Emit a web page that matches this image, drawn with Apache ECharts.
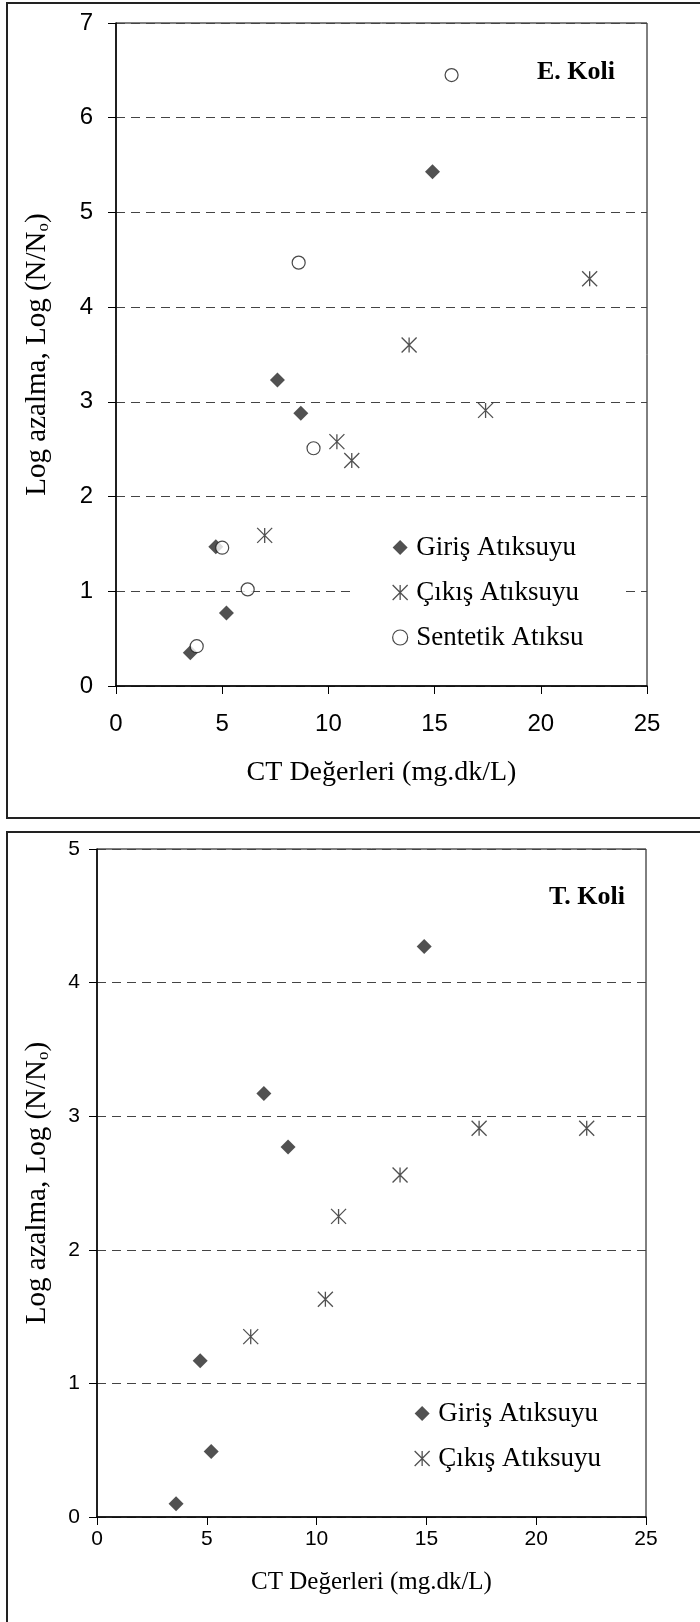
<!DOCTYPE html>
<html>
<head>
<meta charset="utf-8">
<script src="https://cdn.jsdelivr.net/npm/echarts@6/dist/echarts.min.js"></script>
<style>
  html, body { margin: 0; padding: 0; background: #fff; }
  #chart { width: 700px; height: 1622px; }
</style>
</head>
<body>
<div id="chart"></div>
<script>
// E. Koli — CT (mg.dk/L) vs log reduction
const eGirisCT      = [3.5, 4.7, 5.2, 7.6, 8.7, 14.9];
const eGirisLog     = [0.35, 1.47, 0.77, 3.23, 2.88, 5.43];
const eCikisCT      = [7.0, 10.4, 11.1, 13.8, 17.4, 22.3];
const eCikisLog     = [1.59, 2.58, 2.38, 3.60, 2.91, 4.30];
const eSentetikCT   = [3.8, 5.0, 6.2, 8.6, 9.3, 15.8];
const eSentetikLog  = [0.42, 1.46, 1.02, 4.47, 2.51, 6.45];

// T. Koli — CT (mg.dk/L) vs log reduction
const tGirisCT      = [3.6, 4.7, 5.2, 7.6, 8.7, 14.9];
const tGirisLog     = [0.10, 1.17, 0.49, 3.17, 2.77, 4.27];
const tCikisCT      = [7.0, 10.4, 11.0, 13.8, 17.4, 22.3];
const tCikisLog     = [1.35, 1.63, 2.25, 2.56, 2.91, 2.91];

const seriesNames = ['Giriş Atıksuyu', 'Çıkış Atıksuyu', 'Sentetik Atıksu'];
const panelTitles = ['E. Koli', 'T. Koli'];
const xAxisTitle = 'CT Değerleri (mg.dk/L)';
const yAxisTitle = 'Log azalma, Log (N/N{s|o})';

const pairs = (xs, ys) => xs.map((x, i) => [x, ys[i]]);

const serif = 'Liberation Serif, Times New Roman, serif';
const sans = 'Liberation Sans, Arial, sans-serif';
const ink = '#262626';

const diamondPath = 'path://M5,0L10,5L5,10L0,5Z';
const starPath = 'path://M0,0L10,10M10,0L0,10M5,0L5,10';

const styles = {
  giris:    { symbol: diamondPath, symbolSize: 15, itemStyle: { color: ink } },
  cikis:    { symbol: starPath, symbolSize: 15, itemStyle: { color: ink, borderColor: ink, borderWidth: 1.3 } },
  sentetik: { symbol: 'circle', symbolSize: 13, itemStyle: { color: '#fff', borderColor: '#1a1a1a', borderWidth: 1.2 } }
};

function scatter(name, idx, data, st) {
  return Object.assign({
    type: 'scatter', name: name, xAxisIndex: idx, yAxisIndex: idx, data: data,
    symbolKeepAspect: true, emphasis: { disabled: true }
  }, st);
}

function xAxisFor(idx, labelSize, margin, nameSize, nameGap) {
  return {
    gridIndex: idx, type: 'value', min: 0, max: 25, interval: 5,
    axisLine: { show: true, onZero: false, lineStyle: { color: '#000', width: 1.5 } },
    axisTick: { show: true, inside: false, length: 8, lineStyle: { color: '#000' } },
    axisLabel: { margin: margin, color: '#000', fontFamily: sans, fontSize: labelSize },
    splitLine: { show: false },
    name: xAxisTitle, nameLocation: 'middle', nameGap: nameGap, nameMoveOverlap: false,
    nameTextStyle: { color: '#000', fontFamily: serif, fontSize: nameSize }
  };
}

function yAxisFor(idx, max, labelSize, margin, nameGap) {
  return {
    gridIndex: idx, type: 'value', min: 0, max: max, interval: 1,
    axisLine: { show: true, onZero: false, lineStyle: { color: '#000', width: 1.5 } },
    axisTick: { show: true, inside: false, length: 8, lineStyle: { color: '#000' } },
    axisLabel: { margin: margin, color: '#000', fontFamily: sans, fontSize: labelSize },
    splitLine: { show: true, lineStyle: { type: [9, 6], color: '#444', width: 1 } },
    name: yAxisTitle, nameLocation: 'middle', nameGap: nameGap, nameMoveOverlap: false,
    nameTextStyle: {
      color: '#000', fontFamily: serif, fontSize: 29,
      rich: { s: { fontFamily: serif, fontSize: 17, verticalAlign: 'bottom', color: '#000' } }
    }
  };
}

function legendItems(names) {
  const map = {
    'Giriş Atıksuyu':  { icon: diamondPath, itemStyle: { color: ink, borderWidth: 0 } },
    'Çıkış Atıksuyu':  { icon: starPath, itemStyle: { color: ink, borderColor: ink, borderWidth: 1.3 } },
    'Sentetik Atıksu': { icon: 'circle', itemStyle: { color: '#fff', borderColor: '#1a1a1a', borderWidth: 1.2 } }
  };
  return names.map(n => Object.assign({ name: n }, map[n]));
}

function legendFor(names, left, top, padding) {
  return {
    orient: 'vertical', left: left, top: top, padding: padding,
    backgroundColor: '#fff', itemWidth: 22, itemHeight: 15, itemGap: 18,
    symbolKeepAspect: true, selectedMode: false,
    textStyle: { color: '#000', fontFamily: serif, fontSize: 27, lineHeight: 26 },
    data: legendItems(names)
  };
}

const chart = echarts.init(document.getElementById('chart'), null, { renderer: 'canvas' });

chart.setOption({
  animation: false,
  backgroundColor: '#fff',
  graphic: [
    { type: 'rect', silent: true, shape: { x: 7, y: 3, width: 720, height: 815 },
      style: { fill: 'none', stroke: '#222', lineWidth: 2 } },
    { type: 'rect', silent: true, shape: { x: 7, y: 832, width: 720, height: 820 },
      style: { fill: 'none', stroke: '#222', lineWidth: 2 } }
  ],
  title: [
    { text: panelTitles[0], right: 85, top: 59, padding: 0,
      textStyle: { fontFamily: serif, fontWeight: 'bold', fontSize: 26, color: '#000' } },
    { text: panelTitles[1], right: 75, top: 884, padding: 0,
      textStyle: { fontFamily: serif, fontWeight: 'bold', fontSize: 26, color: '#000' } }
  ],
  grid: [
    { left: 116, right: 53, top: 23, bottom: 936, show: true, borderColor: '#000', borderWidth: 1,
      backgroundColor: 'transparent', containLabel: false, outerBoundsMode: 'none' },
    { left: 97, right: 54, top: 849, bottom: 105, show: true, borderColor: '#000', borderWidth: 1,
      backgroundColor: 'transparent', containLabel: false, outerBoundsMode: 'none' }
  ],
  xAxis: [
    xAxisFor(0, 24, 26, 28, 73),
    xAxisFor(1, 21, 12, 25, 53)
  ],
  yAxis: [
    yAxisFor(0, 7, 24, 23, 64),
    yAxisFor(1, 5, 21, 17, 45)
  ],
  legend: [
    legendFor(seriesNames, 355, 515, [19, 41, 12, 37]),
    legendFor(seriesNames.slice(0, 2), 377, 1395, [5, 40, 5, 37])
  ],
  series: [
    scatter(seriesNames[0], 0, pairs(eGirisCT, eGirisLog), styles.giris),
    scatter(seriesNames[1], 0, pairs(eCikisCT, eCikisLog), styles.cikis),
    scatter(seriesNames[2], 0, pairs(eSentetikCT, eSentetikLog), styles.sentetik),
    scatter(seriesNames[0], 1, pairs(tGirisCT, tGirisLog), styles.giris),
    scatter(seriesNames[1], 1, pairs(tCikisCT, tCikisLog), styles.cikis)
  ]
});
</script>
</body>
</html>
